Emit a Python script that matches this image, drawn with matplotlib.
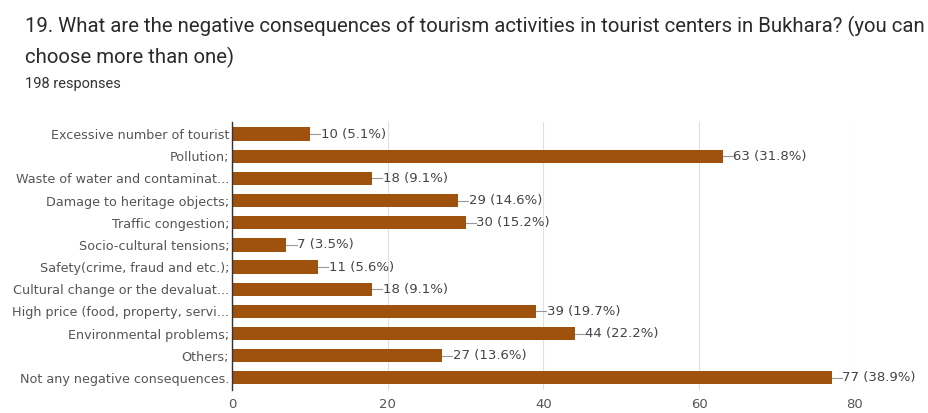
#recreating the Google Forms bar chart for question 19
import matplotlib.pyplot as plt
import numpy as np

title_line1 = '19. What are the negative consequences of tourism activities in tourist centers in Bukhara? (you can'
title_line2 = 'choose more than one)'
subtitle = '198 responses'

categories = ['Excessive number of tourist', 'Pollution;', 'Waste of water and contaminat...',
              'Damage to heritage objects;', 'Traffic congestion;', 'Socio-cultural tensions;',
              'Safety(crime, fraud and etc.);', 'Cultural change or the devaluat...',
              'High price (food, property, servi...', 'Environmental problems;', 'Others;',
              'Not any negative consequences.']
counts = [10, 63, 18, 29, 30, 7, 11, 18, 39, 44, 27, 77]
percents = ['5.1%', '31.8%', '9.1%', '14.6%', '15.2%', '3.5%', '5.6%', '9.1%', '19.7%', '22.2%', '13.6%', '38.9%']
xticks = [0, 20, 40, 60, 80]

plt.rcParams['font.family'] = ['DejaVu Sans']

fig = plt.figure(figsize=(9.29, 4.13), dpi=100)
ax = fig.add_axes([0.2497, 0.0557, 0.6705, 0.649])

y = np.arange(len(categories))
ax.barh(y, counts, height=0.6, color='#9e520d', zorder=3)
ax.set_ylim(len(categories) - 0.45, -0.55)
ax.set_xlim(0, 80)
ax.set_yticks(y)
ax.set_yticklabels(categories, fontsize=9.2, color='#555555')
ax.set_xticks(xticks)
ax.set_xticklabels([str(t) for t in xticks], fontsize=9.5, color='#555555')
ax.tick_params(axis='both', length=0, pad=2)
ax.tick_params(axis='x', pad=6)
ax.grid(axis='x', color='#e0e0e0', linewidth=0.8, zorder=0)
for s in ['top', 'right', 'bottom']:
    ax.spines[s].set_visible(False)
ax.spines['left'].set_color('#333333')
ax.spines['left'].set_linewidth(1.0)
ax.spines['left'].set_zorder(4)

#value labels with the little connector line
for yi, c, p in zip(y, counts, percents):
    ax.plot([c, c + 1.3], [yi, yi], color='#999999', linewidth=0.8, clip_on=False, zorder=4)
    ax.text(c + 1.4, yi, '%d (%s)' % (c, p), va='center', ha='left', fontsize=9.5,
            color='#444444', clip_on=False)

fig.text(0.027, 0.9225, title_line1, fontsize=14.7, color='#2a2a2a', family=['Roboto', 'DejaVu Sans'])
fig.text(0.027, 0.8475, title_line2, fontsize=14.7, color='#2a2a2a', family=['Roboto', 'DejaVu Sans'])
fig.text(0.027, 0.787, subtitle, fontsize=10.5, color='#333333', family=['Roboto', 'DejaVu Sans'])

fig.savefig('out.png', dpi=100)
